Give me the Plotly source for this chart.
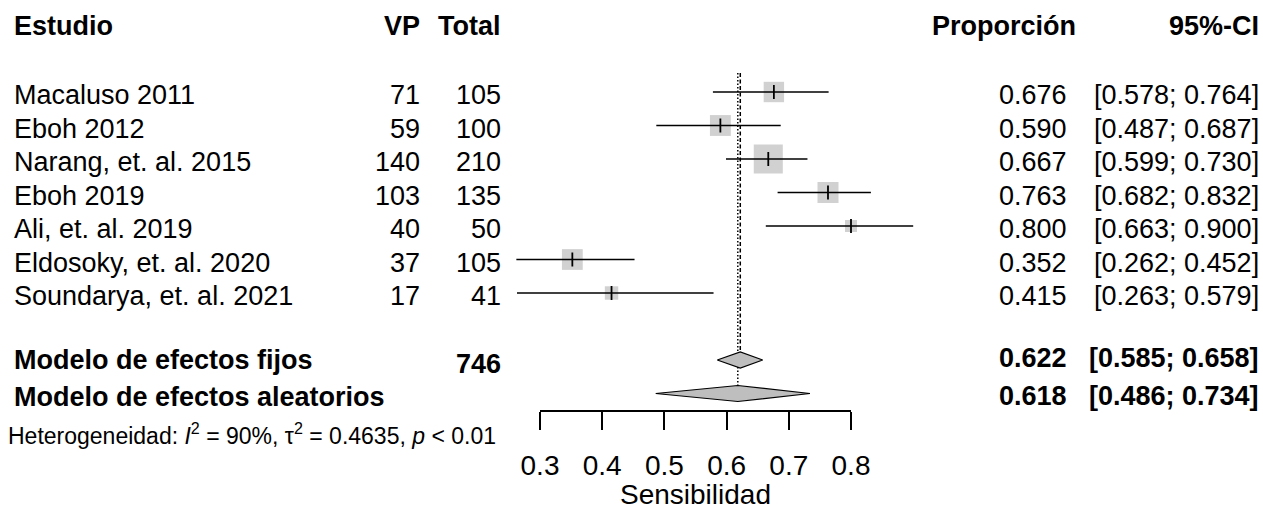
import plotly.graph_objects as go

# ---------------- data ----------------
studies = ["Macaluso 2011", "Eboh 2012", "Narang, et. al. 2015", "Eboh 2019",
           "Ali, et. al. 2019", "Eldosoky, et. al. 2020", "Soundarya, et. al. 2021"]
vp = [71, 59, 140, 103, 40, 37, 17]
total = [105, 100, 210, 135, 50, 105, 41]
prop = [0.676, 0.590, 0.667, 0.763, 0.800, 0.352, 0.415]
ci_lo = [0.578, 0.487, 0.599, 0.682, 0.663, 0.262, 0.263]
ci_hi = [0.764, 0.687, 0.730, 0.832, 0.900, 0.452, 0.579]

fixed_label = "Modelo de efectos fijos"
fixed_total = 746
fixed_est, fixed_lo, fixed_hi = 0.622, 0.585, 0.658
random_label = "Modelo de efectos aleatorios"
random_est, random_lo, random_hi = 0.618, 0.486, 0.734

het_i2 = "90%"
het_tau2 = "0.4635"
het_p = "< 0.01"

tick_vals = [0.3, 0.4, 0.5, 0.6, 0.7, 0.8]
tick_text = ["0.3", "0.4", "0.5", "0.6", "0.7", "0.8"]
axis_title = "Sensibilidad"
headers = ["Estudio", "VP", "Total", "Proporción", "95%-CI"]

# ---------------- layout geometry ----------------
W, H = 1263, 510
FONT = "Liberation Sans, Arial, sans-serif"
FS = 27
GRAY = "#bebebe"

ax_left_px, ax_right_px = 540, 851
ppu = (ax_right_px - ax_left_px) / (tick_vals[-1] - tick_vals[0])
x0 = tick_vals[0] - ax_left_px / ppu
x1 = x0 + W / ppu

row0, step = 92, 33.5
row_y = [row0 + step * i for i in range(len(studies))]
fixed_y = row0 + step * 8
random_y = row0 + step * 9
axis_y = 411
dh = 8  # diamond half height

def px(xp):
    return xp / W

fig = go.Figure()

# squares (size ~ sqrt of inverse variance weight)
sizes = [4.25 * (v * (t - v) / t) ** 0.5 for v, t in zip(vp, total)]
fig.add_trace(go.Scatter(x=prop, y=row_y, mode="markers",
                         marker=dict(symbol="square", size=sizes, color=GRAY,
                                     line=dict(width=0)),
                         hoverinfo="skip", showlegend=False))

# CI lines
cx, cy = [], []
for lo, hi, y in zip(ci_lo, ci_hi, row_y):
    cx += [lo, hi, None]
    cy += [y, y, None]
fig.add_trace(go.Scatter(x=cx, y=cy, mode="lines",
                         line=dict(color="black", width=1.6),
                         hoverinfo="skip", showlegend=False))

# point estimate ticks
fig.add_trace(go.Scatter(x=prop, y=row_y, mode="markers",
                         marker=dict(symbol="line-ns", size=10,
                                     line=dict(color="black", width=1.8)),
                         hoverinfo="skip", showlegend=False))

# reference lines
fig.add_trace(go.Scatter(x=[fixed_est, fixed_est], y=[73, fixed_y - dh],
                         mode="lines", line=dict(color="black", width=1.5, dash="4px,2.5px"),
                         hoverinfo="skip", showlegend=False))
fig.add_trace(go.Scatter(x=[random_est, random_est], y=[73, random_y - dh],
                         mode="lines", line=dict(color="black", width=1.5, dash="1.5px,2px"),
                         hoverinfo="skip", showlegend=False))

# diamonds
for est, lo, hi, y in [(fixed_est, fixed_lo, fixed_hi, fixed_y),
                       (random_est, random_lo, random_hi, random_y)]:
    fig.add_trace(go.Scatter(x=[lo, est, hi, est, lo], y=[y, y - dh, y, y + dh, y],
                             mode="lines", fill="toself", fillcolor=GRAY,
                             line=dict(color="black", width=1.2),
                             hoverinfo="skip", showlegend=False))

# dummy trace for visible axis
fig.add_trace(go.Scatter(x=[], y=[], xaxis="x2", yaxis="y", showlegend=False))

ann = []

def txt(text, xp, y, anchor="left", size=FS, bold=False):
    t = f"<b>{text}</b>" if bold else text
    ann.append(dict(text=t, x=px(xp), y=y, xref="paper", yref="y",
                    xanchor=anchor, yanchor="middle", showarrow=False,
                    font=dict(family=FONT, size=size, color="black")))

TOFF = 3
LX = 12
C_VP, C_TOT, C_PROP, C_CI = 422, 503, 1069, 1261
# headers
hy = 26
txt(headers[0], LX, hy, "left", bold=True)
txt(headers[1], C_VP, hy, "right", bold=True)
txt(headers[2], C_TOT, hy, "right", bold=True)
txt(headers[3], 1078, hy, "right", bold=True)
txt(headers[4], C_CI, hy, "right", bold=True)

for s, v, t, p, lo, hi, y in zip(studies, vp, total, prop, ci_lo, ci_hi, row_y):
    yy = y + TOFF
    txt(s, LX, yy, "left")
    txt(str(v), C_VP, yy, "right")
    txt(str(t), C_TOT, yy, "right")
    txt(f"{p:.3f}", C_PROP, yy, "right")
    txt(f"[{lo:.3f}; {hi:.3f}]", C_CI, yy, "right")

txt(fixed_label, LX, fixed_y, "left", bold=True)
txt(str(fixed_total), C_TOT, fixed_y + 4, "right", bold=True)
txt(f"{fixed_est:.3f}", C_PROP, fixed_y - 2, "right", bold=True)
txt(f"[{fixed_lo:.3f}; {fixed_hi:.3f}]", C_CI, fixed_y - 2, "right", bold=True)

txt(random_label, LX, random_y + 3, "left", bold=True)
txt(f"{random_est:.3f}", C_PROP, random_y + 2, "right", bold=True)
txt(f"[{random_lo:.3f}; {random_hi:.3f}]", C_CI, random_y + 2, "right", bold=True)

het = (f"Heterogeneidad: <i>I</i><sup>2</sup> = {het_i2}, "
       f"τ<sup>2</sup> = {het_tau2}, <i>p</i> {het_p}")
txt(het, 6, 434, "left", size=23)

fig.update_layout(
    width=W, height=H,
    margin=dict(l=0, r=0, t=0, b=0, pad=0, autoexpand=False),
    paper_bgcolor="white", plot_bgcolor="rgba(0,0,0,0)",
    annotations=ann,
    xaxis=dict(range=[x0, x1], visible=False, domain=[0, 1]),
    yaxis=dict(range=[H, 0], visible=False, domain=[0, 1]),
    xaxis2=dict(range=[tick_vals[0], tick_vals[-1]],
                domain=[px(ax_left_px), px(ax_right_px)],
                anchor="free", position=1 - axis_y / H, side="bottom",
                showline=True, linecolor="black", linewidth=1.5,
                ticks="outside", ticklen=18, tickwidth=1.5, tickcolor="black",
                tickvals=tick_vals, ticktext=tick_text,
                tickfont=dict(family=FONT, size=28, color="black"),
                ticklabelstandoff=12,
                showgrid=False, zeroline=False,
                title=dict(text=axis_title, standoff=0,
                           font=dict(family=FONT, size=28, color="black"))),
    showlegend=False,
)

fig.write_html("out.html")
